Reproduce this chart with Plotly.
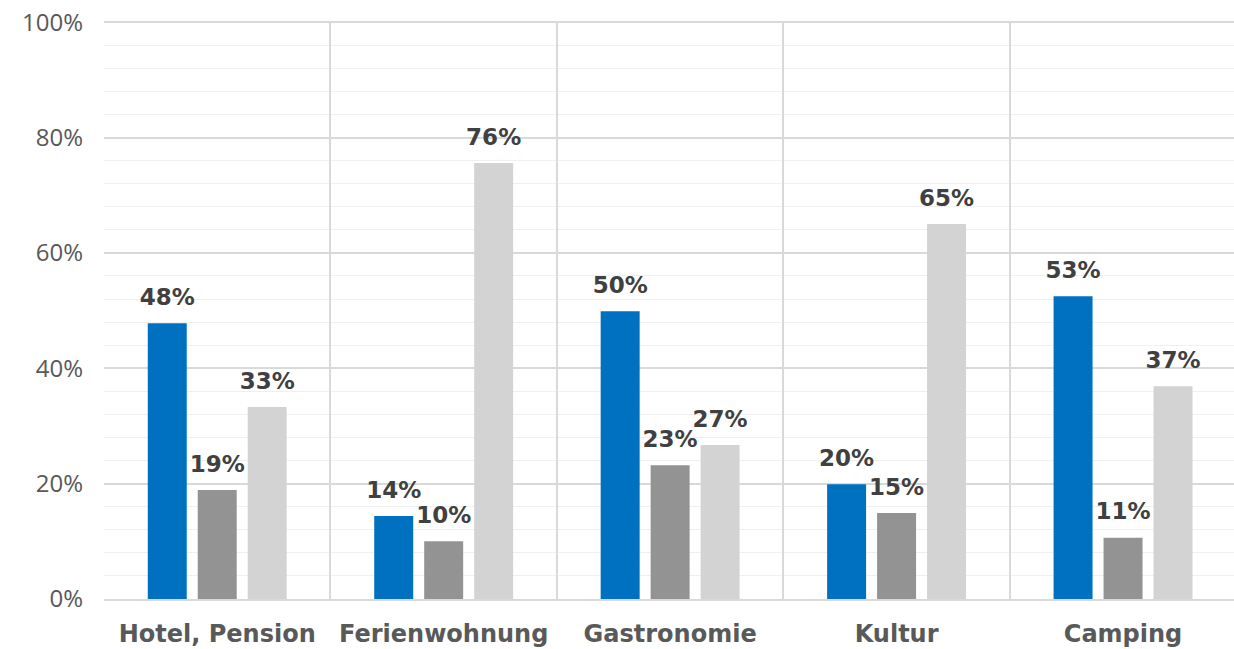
import plotly.graph_objects as go

# Kategorien und Werte (Anteile)
kategorien = ["Hotel, Pension", "Ferienwohnung", "Gastronomie", "Kultur", "Camping"]
serie_blau = [0.478, 0.144, 0.499, 0.199, 0.525]
serie_grau = [0.189, 0.100, 0.232, 0.149, 0.106]
serie_hell = [0.333, 0.756, 0.267, 0.650, 0.369]

farben = ["#0070c0", "#939393", "#d3d3d3"]
abstand = 0.018  # Luft zwischen Balken und Beschriftung

fig = go.Figure()
for i, (werte, farbe) in enumerate(zip([serie_blau, serie_grau, serie_hell], farben)):
    fig.add_trace(go.Bar(
        x=kategorien, y=werte, offsetgroup=str(i),
        marker=dict(color=farbe, line=dict(width=0)),
        showlegend=False, hoverinfo="skip",
    ))
    # unsichtbarer Balken nur fuer die Beschriftung
    fig.add_trace(go.Bar(
        x=kategorien, y=[w + abstand for w in werte], offsetgroup=str(i),
        customdata=werte,
        marker=dict(color="rgba(0,0,0,0)", line=dict(width=0)),
        texttemplate="%{customdata:.0%}", textposition="outside",
        constraintext="none",
        textfont=dict(family="DejaVu Sans", size=23, color="#404040", weight="bold"),
        cliponaxis=False, showlegend=False, hoverinfo="skip",
    ))

fig.update_layout(
    width=1234, height=649,
    margin=dict(l=104, r=0, t=21, b=50),
    paper_bgcolor="white", plot_bgcolor="white",
    barmode="group", bargap=0.338, bargroupgap=0.22,
)
fig.update_xaxes(
    range=[-0.5, 4.49], tickson="boundaries", showgrid=True,
    gridcolor="#d9d9d9", gridwidth=1.5, ticks="",
    showline=True, linecolor="#d9d9d9", linewidth=1.5,
    tickfont=dict(family="DejaVu Sans", size=24, color="#595959", weight="bold"),
    ticklabelstandoff=12,
)
fig.update_yaxes(
    range=[0, 1.002], tickvals=[0, 0.2, 0.4, 0.6, 0.8, 1.0], tickformat=".0%",
    showgrid=True, gridcolor="#d9d9d9", gridwidth=1.5,
    minor=dict(dtick=0.04, showgrid=True, gridcolor="#f0f0f0", gridwidth=1),
    zeroline=False, ticks="",
    tickfont=dict(family="Open Sans", size=24, color="#595959"),
    ticklabelstandoff=20, ticklabeloverflow="allow",
)

# Standardrand der Seite entfernen, damit die Grafik bei 0,0 beginnt
fig.write_html("out.html", config={"displayModeBar": False},
               post_script="document.body.style.margin='0';")
